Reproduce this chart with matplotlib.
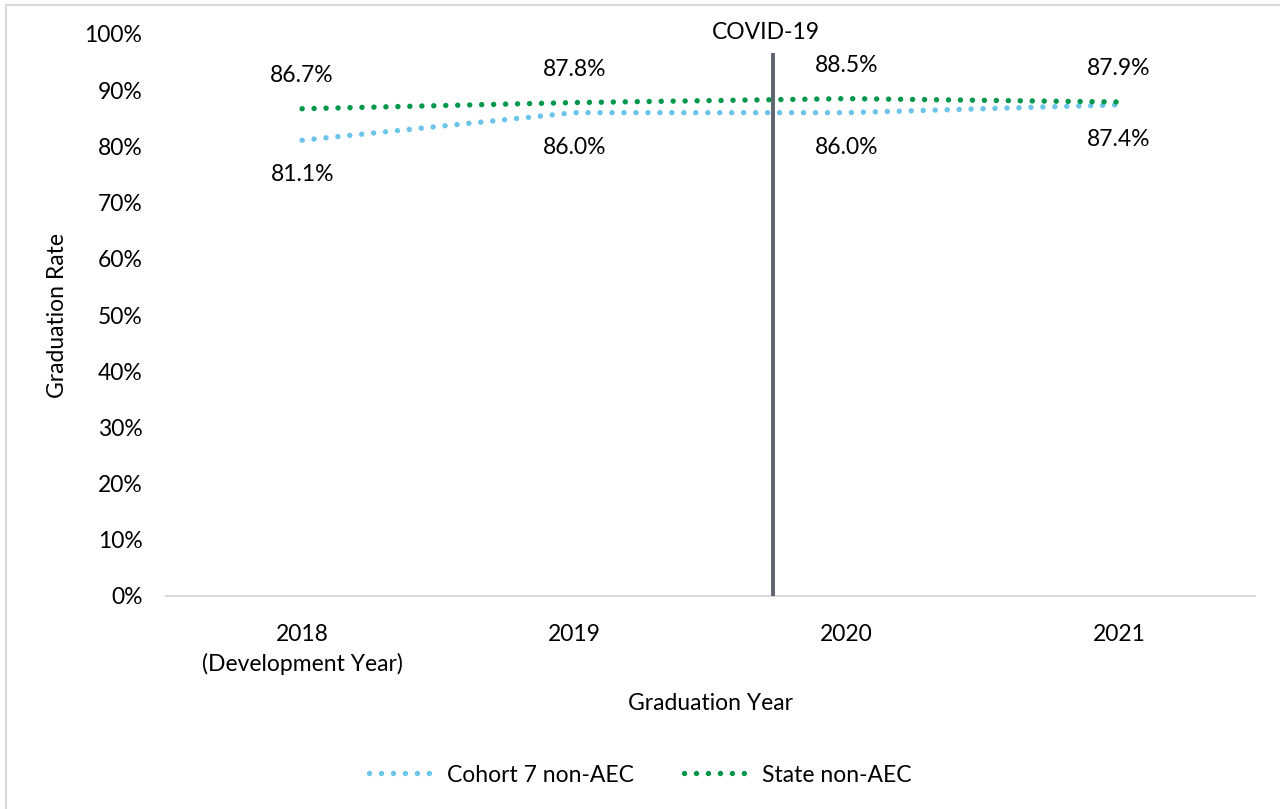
import matplotlib.pyplot as plt
import matplotlib.patches as patches

years = ["2018\n(Development Year)", "2019", "2020", "2021"]
cohort = [81.1, 86.0, 86.0, 87.4]
state = [86.7, 87.8, 88.5, 87.9]
covid_x = 1.73

plt.rcParams['font.family'] = ['Lato', 'DejaVu Sans']
plt.rcParams['font.size'] = 16.5

fig = plt.figure(figsize=(12.8, 8.09), dpi=100)
ax = fig.add_axes([166 / 1280, 1 - 596 / 809, (1255 - 166) / 1280, (596 - 34) / 809])

x = list(range(len(years)))
dots = (0, (0.01, 2.2))
ax.plot(x, cohort, linestyle=dots, linewidth=3.9, color="#6cc4ea",
        dash_capstyle="round", label="Cohort 7 non-AEC")
ax.plot(x, state, linestyle=dots, linewidth=3.9, color="#00974b",
        dash_capstyle="round", label="State non-AEC")

for i in x:
    ax.annotate(f"{state[i]:.1f}%", (i, state[i]), xytext=(0, 24),
                textcoords="offset points", ha="center", va="center")
    ax.annotate(f"{cohort[i]:.1f}%", (i, cohort[i]), xytext=(0, -25),
                textcoords="offset points", ha="center", va="center")

ax.vlines(covid_x, 0, 96.6, color="#5e6570", linewidth=2.8, zorder=5)
ax.text(covid_x - 0.025, 100.2, "COVID-19", ha="center", va="center", clip_on=False)

ax.set_xlim(-0.5, 3.5)
ax.set_ylim(0, 100)
ax.set_xticks(x)
ax.set_xticklabels(years, linespacing=1.45)
ax.set_yticks(range(0, 101, 10))
ax.set_yticklabels([f"{v}%" for v in range(0, 101, 10)])
ax.tick_params(length=0, pad=20)
ax.tick_params(axis="y", pad=17)
for s in ["top", "right", "left"]:
    ax.spines[s].set_visible(False)
ax.spines["bottom"].set_color("#d9d9d9")
ax.spines["bottom"].set_linewidth(1.5)

ax.set_xlabel("Graduation Year", labelpad=13)
ax.set_ylabel("Graduation Rate", labelpad=12)

fig.legend(loc="center", bbox_to_anchor=(0.5, 1 - 775 / 809), ncol=2, frameon=False,
           handlelength=3.0, handletextpad=0.4, columnspacing=2.2)

fig.patches.append(patches.Rectangle((6 / 1280, -0.01), 1.1, 1 - 5 / 809 + 0.01,
                                     transform=fig.transFigure, fill=False,
                                     edgecolor="#d9d9d9", linewidth=1.5))

fig.savefig("out.png", dpi=100)
